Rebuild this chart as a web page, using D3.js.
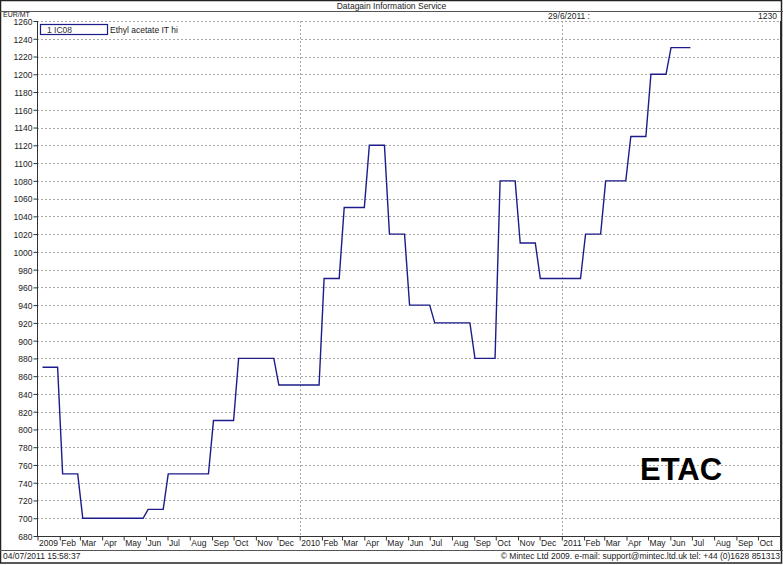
<!DOCTYPE html>
<html>
<head>
    <meta http-equiv="Content-Type" content="text/html;charset=utf-8">
    <script src="https://d3js.org/d3.v7.min.js"></script>
    <style>
        html, body {
            margin: 0;
            padding: 0;
            background: #fff;
        }

        svg {
            display: block;
            font-family: "Liberation Sans", Arial, sans-serif;
        }

        .grid line {
            stroke: #a8a8a8;
            stroke-dasharray: 2 2;
        }

        .axis text {
            font-size: 8.5px;
            fill: #222;
        }

        .axis path, .axis line {
            stroke: #333;
        }
    </style>
</head>
<body>
<div id="chart"></div>
<script>
    // weekly series, only the points where the line bends
    var pointDates = [
        "2009-01-08", "2009-01-29", "2009-02-05", "2009-02-26", "2009-03-05",
        "2009-05-28", "2009-06-04", "2009-06-25", "2009-07-02", "2009-08-27",
        "2009-09-03", "2009-10-01", "2009-10-08", "2009-11-26", "2009-12-03",
        "2010-01-28", "2010-02-04", "2010-02-25", "2010-03-04", "2010-04-01",
        "2010-04-08", "2010-04-29", "2010-05-06", "2010-05-27", "2010-06-03",
        "2010-07-01", "2010-07-08", "2010-08-26", "2010-09-02", "2010-09-30",
        "2010-10-07", "2010-10-28", "2010-11-04", "2010-11-25", "2010-12-02",
        "2011-01-27", "2011-02-03", "2011-02-24", "2011-03-03", "2011-03-31",
        "2011-04-07", "2011-04-28", "2011-05-05", "2011-05-26", "2011-06-02",
        "2011-06-29"
    ];
    var pointValues = [
        870, 870, 750, 750, 700,
        700, 710, 710, 750, 750,
        810, 810, 880, 880, 850,
        850, 970, 970, 1050, 1050,
        1120, 1120, 1020, 1020, 940,
        940, 920, 920, 880, 880,
        1080, 1080, 1010, 1010, 970,
        970, 1020, 1020, 1080, 1080,
        1130, 1130, 1200, 1200, 1230,
        1230
    ];
    var yTicks = d3.range(680, 1261, 20);
    var monthNames = ["Jan", "Feb", "Mar", "Apr", "May", "Jun", "Jul", "Aug", "Sep", "Oct", "Nov", "Dec"];
    var seriesCode = "1 IC08";
    var seriesName = "Ethyl acetate IT hi";
    var lastDate = "29/6/2011 :";
    var lastValue = "1230";

    function renderChart() {
        var width = 783,
            height = 565,
            plotLeft = 37,
            plotRight = 780,
            plotTop = 21,
            plotBottom = 536;

        var parse = d3.timeParse("%Y-%m-%d");
        var data = pointDates.map(function (d, i) {
            return {date: parse(d), value: pointValues[i]};
        });

        var svg = d3.select("#chart").append("svg")
            .attr("width", width)
            .attr("height", height);

        var x = d3.scaleTime()
            .domain([new Date(2009, 0, 1), new Date(2011, 9, 31)])
            .range([plotLeft + 0.5, plotRight - 0.5]);

        var y = d3.scaleLinear()
            .domain([680, 1260])
            .range([plotBottom, plotTop]);

        // frame
        svg.append("rect")
            .attr("x", 0.5).attr("y", 0.5)
            .attr("width", width - 2).attr("height", height - 2.5)
            .attr("fill", "none").attr("stroke", "#222").attr("stroke-width", 1.5);
        svg.append("line")
            .attr("x1", 0).attr("x2", width).attr("y1", 11.5).attr("y2", 11.5)
            .attr("stroke", "#555");
        svg.append("line")
            .attr("x1", 0).attr("x2", width).attr("y1", 550.5).attr("y2", 550.5)
            .attr("stroke", "#555");

        // grid
        var grid = svg.append("g").attr("class", "grid");
        grid.selectAll(".h").data(yTicks.slice(1)).enter().append("line")
            .attr("x1", plotLeft).attr("x2", plotRight)
            .attr("y1", function (d) { return Math.round(y(d)) + 0.5; })
            .attr("y2", function (d) { return Math.round(y(d)) + 0.5; });
        grid.selectAll(".v").data([new Date(2010, 0, 1), new Date(2011, 0, 1)]).enter().append("line")
            .attr("x1", function (d) { return Math.round(x(d)) + 0.5; })
            .attr("x2", function (d) { return Math.round(x(d)) + 0.5; })
            .attr("y1", plotTop).attr("y2", plotBottom);

        // right border of plot
        svg.append("line")
            .attr("x1", plotRight + 0.5).attr("x2", plotRight + 0.5)
            .attr("y1", plotTop).attr("y2", 551)
            .attr("stroke", "#333");

        // axes
        var yAxis = svg.append("g")
            .attr("class", "axis")
            .attr("transform", "translate(" + (plotLeft + 0.5) + ",0)")
            .call(d3.axisLeft(y).tickValues(yTicks).tickSize(4).tickPadding(1).tickFormat(d3.format("d")));
        yAxis.select(".domain").attr("d", "M0," + plotTop + "V" + plotBottom);
        yAxis.selectAll(".tick text").attr("dy", "0.4em");

        var xAxis = svg.append("g")
            .attr("class", "axis")
            .attr("transform", "translate(0," + (plotBottom + 0.5) + ")")
            .call(d3.axisBottom(x).ticks(d3.timeMonth.every(1)).tickSize(4)
                .tickFormat(function (d) {
                    return d.getMonth() === 0 ? d.getFullYear() : monthNames[d.getMonth()];
                }));
        xAxis.select(".domain").attr("d", "M" + plotLeft + ",0H" + plotRight);
        xAxis.selectAll(".tick text")
            .attr("text-anchor", "start")
            .attr("x", 1)
            .attr("y", 3)
            .attr("dy", "0.71em");

        // series line
        svg.append("path")
            .datum(data)
            .attr("fill", "none")
            .attr("stroke", "#1c1c8a")
            .attr("stroke-width", 1.4)
            .attr("d", d3.line()
                .x(function (d) { return x(d.date); })
                .y(function (d) { return y(d.value); }));

        // legend
        svg.append("rect")
            .attr("x", 40.5).attr("y", 24.5).attr("width", 67).attr("height", 10)
            .attr("fill", "#fff").attr("stroke", "#1c1c8a").attr("stroke-width", 1.2);
        svg.append("text")
            .attr("x", 47).attr("y", 32.5)
            .attr("font-size", 8.5).attr("fill", "#333")
            .text(seriesCode);
        svg.append("text")
            .attr("x", 110).attr("y", 32.5)
            .attr("font-size", 8.5).attr("fill", "#222")
            .text(seriesName);

        // texts
        svg.append("text")
            .attr("x", width / 2).attr("y", 9)
            .attr("text-anchor", "middle")
            .attr("font-size", 8.5).attr("fill", "#222")
            .text("Datagain Information Service");
        svg.append("text")
            .attr("x", 3).attr("y", 16.5)
            .attr("font-size", 7).attr("fill", "#222")
            .text("EUR/MT");
        svg.append("text")
            .attr("x", 590).attr("y", 19)
            .attr("text-anchor", "end")
            .attr("font-size", 8.5).attr("fill", "#222")
            .text(lastDate);
        svg.append("text")
            .attr("x", 777).attr("y", 19)
            .attr("text-anchor", "end")
            .attr("font-size", 8.5).attr("fill", "#222")
            .text(lastValue);
        svg.append("text")
            .attr("x", 3).attr("y", 559)
            .attr("font-size", 8.5).attr("fill", "#222")
            .text("04/07/2011 15:58:37");
        svg.append("text")
            .attr("x", 780).attr("y", 559)
            .attr("text-anchor", "end")
            .attr("font-size", 8.5).attr("fill", "#222")
            .text("\u00a9 Mintec Ltd 2009. e-mail: support@mintec.ltd.uk tel: +44 (0)1628 851313");

        svg.append("text")
            .attr("x", 640).attr("y", 480)
            .attr("font-size", 31).attr("font-weight", "bold").attr("fill", "#000")
            .text("ETAC");
    }

    renderChart();
</script>
</body>
</html>
